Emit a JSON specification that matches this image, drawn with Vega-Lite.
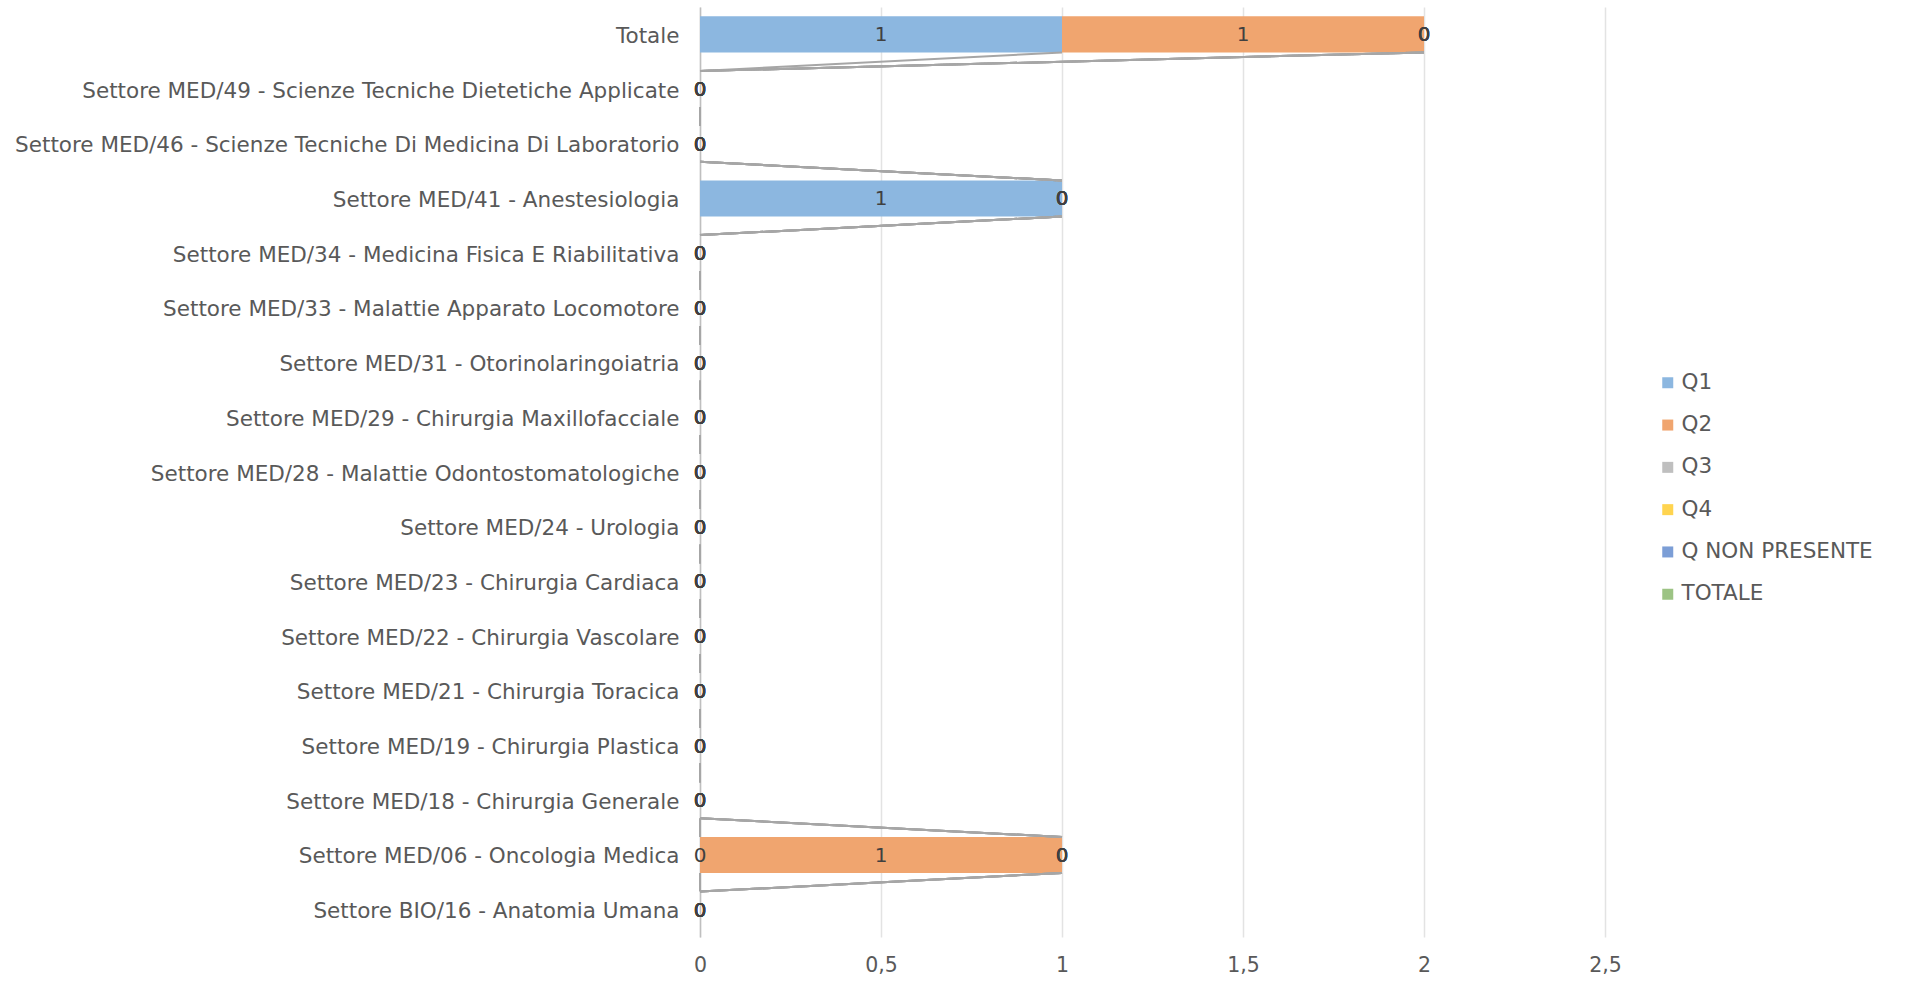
{
  "$schema": "https://vega.github.io/schema/vega-lite/v6.json",
  "autosize": "none",
  "width": 905,
  "height": 930,
  "padding": {"left": 700, "top": 7, "right": 307, "bottom": 53},
  "background": "white",
  "config": {
    "font": "DejaVu Sans",
    "view": {"stroke": null},
    "axis": {"labelFont": "DejaVu Sans", "labelColor": "#595959", "labelFontSize": 20}
  },
  "data": {
    "values": [
      {"settore": "Totale", "Q1": 1, "Q2": 1, "Q3": 0, "Q4": 0, "Q NON PRESENTE": 0, "TOTALE": 0},
      {"settore": "Settore MED/49 - Scienze Tecniche Dietetiche Applicate", "Q1": 0, "Q2": 0, "Q3": 0, "Q4": 0, "Q NON PRESENTE": 0, "TOTALE": 0},
      {"settore": "Settore MED/46 - Scienze Tecniche Di Medicina Di Laboratorio", "Q1": 0, "Q2": 0, "Q3": 0, "Q4": 0, "Q NON PRESENTE": 0, "TOTALE": 0},
      {"settore": "Settore MED/41 - Anestesiologia", "Q1": 1, "Q2": 0, "Q3": 0, "Q4": 0, "Q NON PRESENTE": 0, "TOTALE": 0},
      {"settore": "Settore MED/34 - Medicina Fisica E Riabilitativa", "Q1": 0, "Q2": 0, "Q3": 0, "Q4": 0, "Q NON PRESENTE": 0, "TOTALE": 0},
      {"settore": "Settore MED/33 - Malattie Apparato Locomotore", "Q1": 0, "Q2": 0, "Q3": 0, "Q4": 0, "Q NON PRESENTE": 0, "TOTALE": 0},
      {"settore": "Settore MED/31 - Otorinolaringoiatria", "Q1": 0, "Q2": 0, "Q3": 0, "Q4": 0, "Q NON PRESENTE": 0, "TOTALE": 0},
      {"settore": "Settore MED/29 - Chirurgia Maxillofacciale", "Q1": 0, "Q2": 0, "Q3": 0, "Q4": 0, "Q NON PRESENTE": 0, "TOTALE": 0},
      {"settore": "Settore MED/28 - Malattie Odontostomatologiche", "Q1": 0, "Q2": 0, "Q3": 0, "Q4": 0, "Q NON PRESENTE": 0, "TOTALE": 0},
      {"settore": "Settore MED/24 - Urologia", "Q1": 0, "Q2": 0, "Q3": 0, "Q4": 0, "Q NON PRESENTE": 0, "TOTALE": 0},
      {"settore": "Settore MED/23 - Chirurgia Cardiaca", "Q1": 0, "Q2": 0, "Q3": 0, "Q4": 0, "Q NON PRESENTE": 0, "TOTALE": 0},
      {"settore": "Settore MED/22 - Chirurgia Vascolare", "Q1": 0, "Q2": 0, "Q3": 0, "Q4": 0, "Q NON PRESENTE": 0, "TOTALE": 0},
      {"settore": "Settore MED/21 - Chirurgia Toracica", "Q1": 0, "Q2": 0, "Q3": 0, "Q4": 0, "Q NON PRESENTE": 0, "TOTALE": 0},
      {"settore": "Settore MED/19 - Chirurgia Plastica", "Q1": 0, "Q2": 0, "Q3": 0, "Q4": 0, "Q NON PRESENTE": 0, "TOTALE": 0},
      {"settore": "Settore MED/18 - Chirurgia Generale", "Q1": 0, "Q2": 0, "Q3": 0, "Q4": 0, "Q NON PRESENTE": 0, "TOTALE": 0},
      {"settore": "Settore MED/06 - Oncologia Medica", "Q1": 0, "Q2": 1, "Q3": 0, "Q4": 0, "Q NON PRESENTE": 0, "TOTALE": 0},
      {"settore": "Settore BIO/16 - Anatomia Umana", "Q1": 0, "Q2": 0, "Q3": 0, "Q4": 0, "Q NON PRESENTE": 0, "TOTALE": 0}
    ]
  },
  "transform": [
    {"window": [{"op": "row_number", "as": "ci"}]},
    {"fold": ["Q1", "Q2", "Q3", "Q4", "Q NON PRESENTE", "TOTALE"], "as": ["serie", "n"]},
    {"calculate": "indexof(['Q1','Q2','Q3','Q4','Q NON PRESENTE','TOTALE'], datum.serie)", "as": "so"},
    {"stack": "n", "groupby": ["settore"], "sort": [{"field": "so", "order": "ascending"}], "as": ["v0", "v1"]},
    {"calculate": "(datum.v0 + datum.v1) / 2", "as": "mid"},
    {"window": [{"op": "lead", "field": "v1", "as": "nv1"}, {"op": "lead", "field": "settore", "as": "nset"}], "groupby": ["serie"], "sort": [{"field": "ci", "order": "ascending"}]}
  ],
  "encoding": {
    "y": {
      "field": "settore",
      "type": "nominal",
      "sort": null,
      "scale": {"paddingInner": 0.34, "paddingOuter": 0.17},
      "axis": {"title": null, "ticks": false, "domainColor": "#BFBFBF", "domainWidth": 1.5, "labelPadding": 21, "labelFontSize": 21.5, "labelLimit": 0, "labelOffset": 2.5}
    }
  },
  "layer": [
    {
      "mark": {"type": "bar"},
      "encoding": {
        "x": {
          "field": "v0",
          "type": "quantitative",
          "scale": {"domain": [0, 2.5], "nice": false},
          "axis": {
            "title": null,
            "values": [0, 0.5, 1, 1.5, 2, 2.5],
            "labelExpr": "replace(format(datum.value, '~g'), '.', ',')",
            "grid": true,
            "gridColor": "#E3E3E3",
            "gridWidth": 1.5,
            "domain": false,
            "ticks": false,
            "labelFlush": false,
            "labelPadding": 18,
            "labelFontSize": 20.5
          }
        },
        "x2": {"field": "v1"},
        "color": {
          "field": "serie",
          "type": "nominal",
          "scale": {
            "domain": ["Q1", "Q2", "Q3", "Q4", "Q NON PRESENTE", "TOTALE"],
            "range": ["#8CB7E0", "#F0A56F", "#BFBFBF", "#FFD44F", "#7C9ED6", "#9CC384"]
          },
          "legend": {
            "title": null,
            "orient": "none",
            "legendX": 957,
            "legendY": 365,
            "symbolType": "square",
            "symbolSize": 121,
            "symbolStrokeWidth": 0,
            "labelFontSize": 21.5,
            "labelColor": "#595959",
            "labelFont": "DejaVu Sans",
            "labelLimit": 0,
            "rowPadding": 19.3,
            "labelOffset": 3
          }
        }
      }
    },
    {
      "transform": [{"filter": "datum.nset != null"}],
      "mark": {"type": "rule", "color": "#A6A6A6", "strokeWidth": 2},
      "encoding": {
        "x": {"field": "v1", "type": "quantitative"},
        "x2": {"field": "nv1"},
        "y": {"field": "settore", "type": "nominal", "sort": null, "bandPosition": 1},
        "y2": {"field": "nset", "bandPosition": 0}
      }
    },
    {
      "mark": {"type": "text", "fontSize": 20, "color": "#404040", "font": "DejaVu Sans", "dy": 1},
      "encoding": {
        "x": {"field": "mid", "type": "quantitative"},
        "text": {"field": "n", "type": "quantitative"}
      }
    }
  ]
}
